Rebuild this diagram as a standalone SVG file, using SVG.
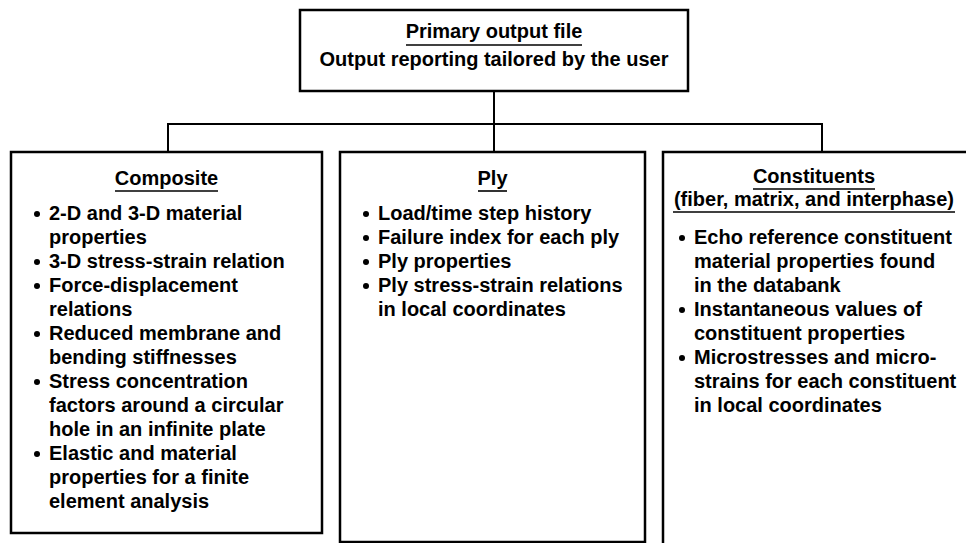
<svg xmlns="http://www.w3.org/2000/svg" width="966" height="543" viewBox="0 0 966 543">
  <style>
    .box { fill: #fff; stroke: #000; stroke-width: 2.5; }
    .wire { fill: none; stroke: #000; stroke-width: 2; }
    .t { font-family: "Liberation Sans", Arial, Helvetica, sans-serif; font-weight: bold; font-size: 20px; fill: #000; }
    .c { text-anchor: middle; }
    .ul { stroke: #000; stroke-width: 1.6; }
    .dot { fill: #000; }
  </style>
  <rect width="966" height="543" fill="#fff"/>

  <!-- tree connectors -->
  <g id="connectors" class="wire">
    <path d="M494 91 V152"/>
    <path d="M168 152 V124 H822 V152"/>
  </g>

  <!-- root: primary output file -->
  <g id="primary">
    <rect class="box" x="300" y="10" width="388" height="81"/>
    <text class="t c" x="494" y="38">Primary output file</text>
    <line class="ul" x1="406" y1="45" x2="582" y2="45"/>
    <text class="t c" x="494" y="66">Output reporting tailored by the user</text>
  </g>

  <!-- composite level -->
  <g id="composite">
    <rect class="box" x="11" y="152" width="311" height="381"/>
    <text class="t c" x="166.5" y="185">Composite</text>
    <line class="ul" x1="115" y1="191" x2="218" y2="191"/>
    <circle class="dot" cx="37" cy="214" r="3"/>
    <circle class="dot" cx="37" cy="262" r="3"/>
    <circle class="dot" cx="37" cy="286" r="3"/>
    <circle class="dot" cx="37" cy="334" r="3"/>
    <circle class="dot" cx="37" cy="382" r="3"/>
    <circle class="dot" cx="37" cy="454" r="3"/>
    <text class="t" x="49" y="220">2-D and 3-D material</text>
    <text class="t" x="49" y="244">properties</text>
    <text class="t" x="49" y="268">3-D stress-strain relation</text>
    <text class="t" x="49" y="292">Force-displacement</text>
    <text class="t" x="49" y="316">relations</text>
    <text class="t" x="49" y="340">Reduced membrane and</text>
    <text class="t" x="49" y="364">bending stiffnesses</text>
    <text class="t" x="49" y="388">Stress concentration</text>
    <text class="t" x="49" y="412">factors around a circular</text>
    <text class="t" x="49" y="436">hole in an infinite plate</text>
    <text class="t" x="49" y="460">Elastic and material</text>
    <text class="t" x="49" y="484">properties for a finite</text>
    <text class="t" x="49" y="508">element analysis</text>
  </g>

  <!-- ply level -->
  <g id="ply">
    <rect class="box" x="340" y="152" width="305" height="390"/>
    <text class="t c" x="492.5" y="185">Ply</text>
    <line class="ul" x1="478" y1="191" x2="507" y2="191"/>
    <circle class="dot" cx="366" cy="214" r="3"/>
    <circle class="dot" cx="366" cy="238" r="3"/>
    <circle class="dot" cx="366" cy="262" r="3"/>
    <circle class="dot" cx="366" cy="286" r="3"/>
    <text class="t" x="378" y="220">Load/time step history</text>
    <text class="t" x="378" y="244">Failure index for each ply</text>
    <text class="t" x="378" y="268">Ply properties</text>
    <text class="t" x="378" y="292">Ply stress-strain relations</text>
    <text class="t" x="378" y="316">in local coordinates</text>
  </g>

  <!-- constituent level -->
  <g id="constituents">
    <rect class="box" x="663" y="152" width="306" height="400"/>
    <text class="t c" x="814" y="183">Constituents</text>
    <line class="ul" x1="753" y1="189" x2="875" y2="189"/>
    <text class="t c" x="814" y="206">(fiber, matrix, and interphase)</text>
    <line class="ul" x1="673" y1="212" x2="955" y2="212"/>
    <circle class="dot" cx="682" cy="238" r="3"/>
    <circle class="dot" cx="682" cy="310" r="3"/>
    <circle class="dot" cx="682" cy="358" r="3"/>
    <text class="t" x="694" y="244">Echo reference constituent</text>
    <text class="t" x="694" y="268">material properties found</text>
    <text class="t" x="694" y="292">in the databank</text>
    <text class="t" x="694" y="316">Instantaneous values of</text>
    <text class="t" x="694" y="340">constituent properties</text>
    <text class="t" x="694" y="364">Microstresses and micro-</text>
    <text class="t" x="694" y="388">strains for each constituent</text>
    <text class="t" x="694" y="412">in local coordinates</text>
  </g>
</svg>
